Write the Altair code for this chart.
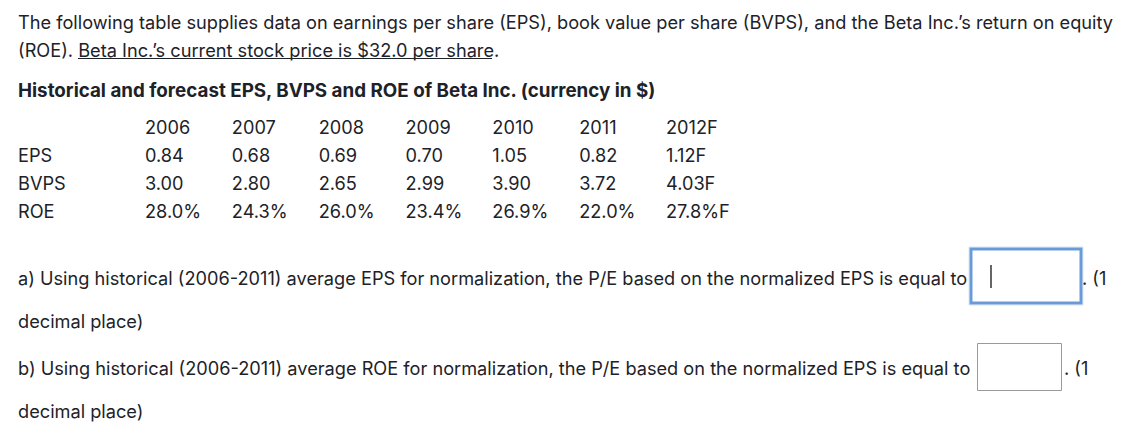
import altair as alt
import pandas as pd

# ---------------- data ----------------
years = ["2006", "2007", "2008", "2009", "2010", "2011", "2012F"]
row_labels = ["EPS", "BVPS", "ROE"]
eps = ["0.84", "0.68", "0.69", "0.70", "1.05", "0.82", "1.12F"]
bvps = ["3.00", "2.80", "2.65", "2.99", "3.90", "3.72", "4.03F"]
roe = ["28.0%", "24.3%", "26.0%", "23.4%", "26.9%", "22.0%", "27.8%F"]

intro_1 = ("The following table supplies data on earnings per share (EPS), book value per share "
           "(BVPS), and the Beta Inc.\u2019s return on equity")
intro_2 = "(ROE). Beta Inc.\u2019s current stock price is $32.0 per share."
table_title = "Historical and forecast EPS, BVPS and ROE of Beta Inc. (currency in $)"
q_a = ("a) Using historical (2006-2011) average EPS for normalization, the P/E based on the "
       "normalized EPS is equal to")
q_b = ("b) Using historical (2006-2011) average ROE for normalization, the P/E based on the "
       "normalized EPS is equal to")
tail = ". (1"
tail_2 = "decimal place)"

# ---------------- layout (page pixel coordinates) ----------------
OFF = 8
W, H = 1144 - 2 * OFF, 436 - 2 * OFF
FONT = "Inter"
FS = 18.2
FS_BOLD = 18.8
COLOR = "#1d2228"
DY = 1.5  # text vertical nudge


def px(v):
    return v - OFF


# table cells built from the arrays
cells = []
for ci, y in enumerate(years):
    cells.append({"col": ci, "row": 0, "t": y})
for ri, vals in enumerate([eps, bvps, roe], start=1):
    for ci, v in enumerate(vals):
        cells.append({"col": ci, "row": ri, "t": v})
cells_df = pd.DataFrame(cells)
labels_df = pd.DataFrame({"row": [1, 2, 3], "t": row_labels})

xs = alt.Scale(domain=[0, 6], range=[px(145), px(666)])
ys = alt.Scale(domain=[0, 3], range=[px(127 + DY), px(211 + DY)])

table = alt.Chart(cells_df).mark_text(
    align="left", baseline="middle", font=FONT, fontSize=FS, color=COLOR
).encode(
    x=alt.X("col:Q", scale=xs, axis=None),
    y=alt.Y("row:Q", scale=ys, axis=None),
    text="t:N",
)
row_lab = alt.Chart(labels_df).mark_text(
    align="left", baseline="middle", font=FONT, fontSize=FS, color=COLOR
).encode(
    x=alt.value(px(18)),
    y=alt.Y("row:Q", scale=ys, axis=None),
    text="t:N",
)


def line(txt, x, y, bold=False, align="left"):
    return alt.Chart(pd.DataFrame({"t": [txt]})).mark_text(
        align=align, baseline="middle", font=FONT,
        fontSize=FS_BOLD if bold else FS, color=COLOR,
        fontWeight="bold" if bold else "normal",
    ).encode(x=alt.value(px(x)), y=alt.value(px(y + DY)), text="t:N")


def rule(x1, x2, y1, y2, color, w):
    return alt.Chart(pd.DataFrame({"a": [0]})).mark_rule(color=color, strokeWidth=w).encode(
        x=alt.value(px(x1)), x2=alt.value(px(x2)), y=alt.value(px(y1)), y2=alt.value(px(y2))
    )


def box(x1, x2, y1, y2, stroke, w):
    return alt.Chart(pd.DataFrame({"a": [0]})).mark_rect(
        fill="white", stroke=stroke, strokeWidth=w
    ).encode(
        x=alt.value(px(x1)), x2=alt.value(px(x2)), y=alt.value(px(y1)), y2=alt.value(px(y2))
    )


layers = [
    line(intro_1, 18, 22),
    line(intro_2, 18, 50),
    rule(78, 492, 58.5, 58.5, COLOR, 1),
    line(table_title, 18, 89, bold=True),
    table,
    row_lab,
    line(q_a, 18, 278),
    box(969, 1083, 247, 305, "#dbe6f5", 1),
    box(971, 1081, 249, 303, "#6b9bd6", 3),
    rule(991, 991, 265, 288, "#333333", 1.5),
    line(tail, 1082, 278),
    line(tail_2, 18, 321),
    line(q_b, 18, 368),
    box(977.5, 1061.5, 343.5, 390.5, "#9a9a9a", 1),
    line(tail, 1064, 368),
    line(tail_2, 18, 411),
]

chart = alt.layer(*layers).properties(
    width=W, height=H, padding=0, autosize=alt.AutoSizeParams(type="none"),
    background="white",
).configure_view(stroke=None)

chart.save("out.html", embed_options={"renderer": "svg", "actions": False})
